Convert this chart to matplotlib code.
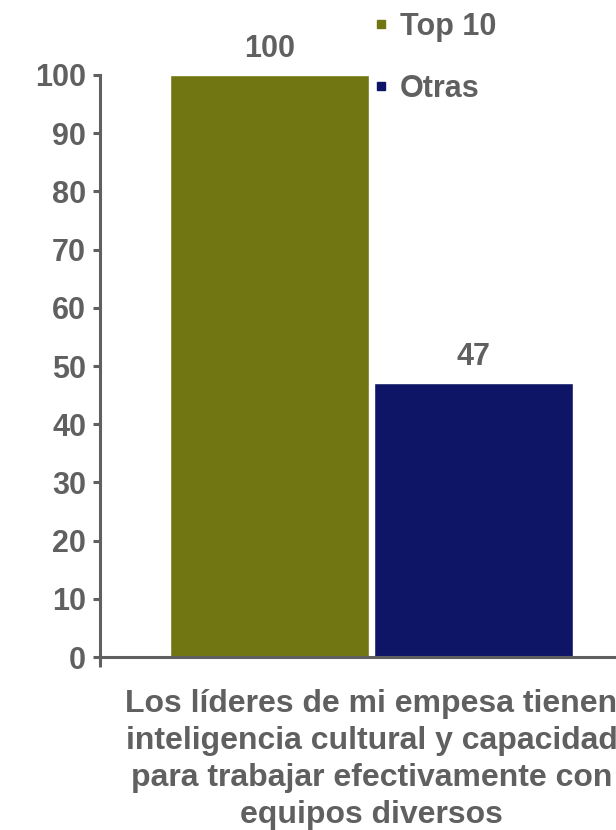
import matplotlib.pyplot as plt
from matplotlib.lines import Line2D

# datos de la encuesta
series = ['Top 10', 'Otras']
values = [100, 47]
colors = ['#717613', '#0e1566']
category = ('Los líderes de mi empesa tienen\ninteligencia cultural y capacidad\n'
            'para trabajar efectivamente con\nequipos diversos')
yticks = [0, 10, 20, 30, 40, 50, 60, 70, 80, 90, 100]

gray = '#606060'
fs = 22
plt.rcParams['font.family'] = ['Liberation Sans', 'DejaVu Sans']
plt.rcParams['font.weight'] = 'bold'

fig = plt.figure(figsize=(6.16, 8.3), dpi=100)
ax = fig.add_axes([100 / 616, 1 - 657 / 830, 1 - 100 / 616, (657 - 75) / 830])

w = 0.386
gap = 0.01
xs = [-(w + gap) / 2, (w + gap) / 2]
for x, v, c in zip(xs, values, colors):
    ax.bar(x, v, width=w, color=c, edgecolor='white', linewidth=1)
    ax.annotate(str(v), (x, v), xytext=(0, 8), textcoords='offset points',
                ha='center', va='bottom', fontsize=fs, fontweight='bold', color=gray)

ax.set_xlim(-0.526, 0.474)
ax.set_ylim(0, 100)
ax.set_yticks(yticks)
ax.set_yticklabels([str(t) for t in yticks])
ax.set_xticks([-0.526])
ax.set_xticklabels([''])
ax.set_xticks([0], minor=True)
ax.set_xticklabels([category], minor=True)

for s in ['top', 'right']:
    ax.spines[s].set_visible(False)
for s in ['left', 'bottom']:
    ax.spines[s].set_color(gray)
    ax.spines[s].set_linewidth(2.2)

ax.tick_params(axis='y', length=5, width=2.2, color=gray, labelcolor=gray,
               labelsize=fs, pad=5)
ax.tick_params(axis='x', which='major', length=7, width=2.2, color=gray)
ax.tick_params(axis='x', which='minor', length=0, labelcolor=gray,
               labelsize=23, pad=23)
for lab in ax.get_xticklabels(minor=True):
    lab.set_multialignment('center')
    lab.set_linespacing(1.3)

handles = [Line2D([], [], marker='s', linestyle='none', markersize=6,
                  markerfacecolor=c, markeredgecolor=c) for c in colors]
fig.legend(handles, series, loc='upper left', bbox_to_anchor=(372 / 616, 1 - 12 / 830),
           frameon=False, fontsize=fs, handlelength=0.6, handletextpad=0.3,
           labelspacing=1.05, borderpad=0, borderaxespad=0, labelcolor=gray)

fig.savefig('out.png', dpi=100)
